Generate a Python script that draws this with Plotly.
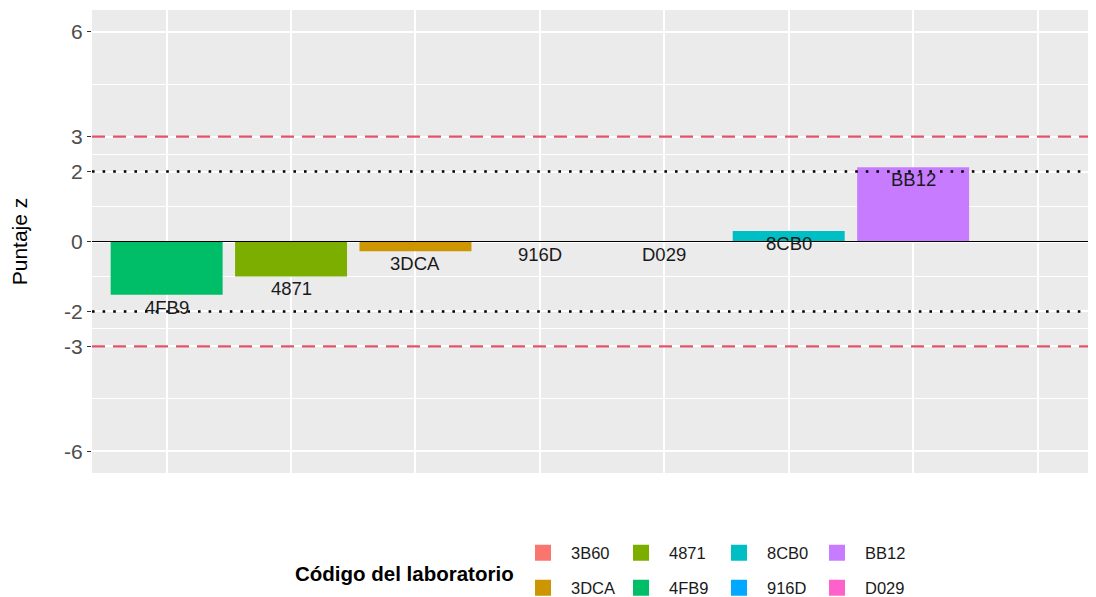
import plotly.graph_objects as go

# datos: orden de las barras en el eje x (3B60 sin valor)
laboratorios = ["4FB9", "4871", "3DCA", "916D", "D029", "8CB0", "BB12", "3B60"]
puntaje_z = [-1.52, -1.0, -0.28, 0.0, 0.0, 0.3, 2.12, None]

# leyenda en dos filas (ggplot la llena por columnas)
fila_1 = ["3B60", "4871", "8CB0", "BB12"]
fila_2 = ["3DCA", "4FB9", "916D", "D029"]
colores = {
    "3B60": "#F8766D", "3DCA": "#CD9600", "4871": "#7CAE00", "4FB9": "#00BE67",
    "8CB0": "#00BFC4", "916D": "#00A9FF", "BB12": "#C77CFF", "D029": "#FF61CC",
}

ticks_y = [-6, -3, -2, 0, 2, 3, 6]
ticks_y_txt = ["-6", "-3", "-2", "0", "2", "3", "6"]
minor_y = [-4.5, -2.5, -1, 1, 2.5, 4.5]
limites_accion = [3, -3]
limites_alerta = [2, -2]

fig = go.Figure()

valores = dict(zip(laboratorios, puntaje_z))
for leyenda, fila in [("legend", fila_1), ("legend2", fila_2)]:
    for lab in fila:
        fig.add_trace(go.Bar(
            x=[lab], y=[valores[lab]], name=lab, width=0.9,
            marker=dict(color=colores[lab], line=dict(width=0)),
            showlegend=False,
        ))
        fig.add_trace(go.Scatter(
            x=[None], y=[None], mode="markers", name=lab, legend=leyenda,
            marker=dict(symbol="square", size=30, color=colores[lab]),
        ))

for v in limites_accion:
    fig.add_hline(y=v, line=dict(color="#DF536B", width=2.2, dash="13px,8px"), layer="above")
for v in limites_alerta:
    fig.add_hline(y=v, line=dict(color="black", width=2.6, dash="2.6px,8px"), layer="above")
fig.add_hline(y=0, line=dict(color="black", width=1.1), layer="above")

for i, (lab, v) in enumerate(zip(laboratorios, puntaje_z)):
    if v is None:
        continue
    fig.add_annotation(x=i, y=v, text=lab, showarrow=False, yanchor="top",
                       yshift=0, font=dict(size=18.5, color="#1A1A1A"))

fig.add_annotation(text="<b>Código del laboratorio</b>", xref="paper", yref="paper",
                   x=0.4223, y=-0.216, xanchor="right", yanchor="middle",
                   showarrow=False, font=dict(size=20.5, color="black"))

estilo_leyenda = dict(
    orientation="h", xref="container", yref="container",
    x=0.466, xanchor="left", yanchor="middle",
    itemwidth=46, entrywidth=37, itemsizing="trace",
    font=dict(size=16.5, color="#1A1A1A"),
)

# la pagina deja 8px de margen en el body
fig.update_layout(
    width=1088, height=589,
    margin=dict(l=84, r=0, t=2, b=124, autoexpand=False),
    barmode="relative",
    plot_bgcolor="#EBEBEB", paper_bgcolor="white",
    font=dict(family="Liberation Sans, Arial", color="#1A1A1A"),
    legend=dict(estilo_leyenda, y=0.0747),
    legend2=dict(estilo_leyenda, y=0.0153),
)

fig.update_xaxes(
    type="category", categoryorder="array", categoryarray=laboratorios,
    range=[-0.6, 7.47], showticklabels=False, ticks="",
    showgrid=True, gridcolor="white", gridwidth=1.5, zeroline=False,
)
fig.update_yaxes(
    range=[-6.62, 6.62], tickvals=ticks_y, ticktext=ticks_y_txt,
    ticks="outside", ticklen=4, tickcolor="#333333",
    tickfont=dict(size=21, color="#4D4D4D"),
    showgrid=True, gridcolor="white", gridwidth=1.5, zeroline=False,
    minor=dict(tickvals=minor_y, showgrid=True, gridcolor="white", gridwidth=0.8, ticks=""),
    title=dict(text="Puntaje z", font=dict(size=21, color="black"), standoff=30),
)

fig.write_html("out.html")
